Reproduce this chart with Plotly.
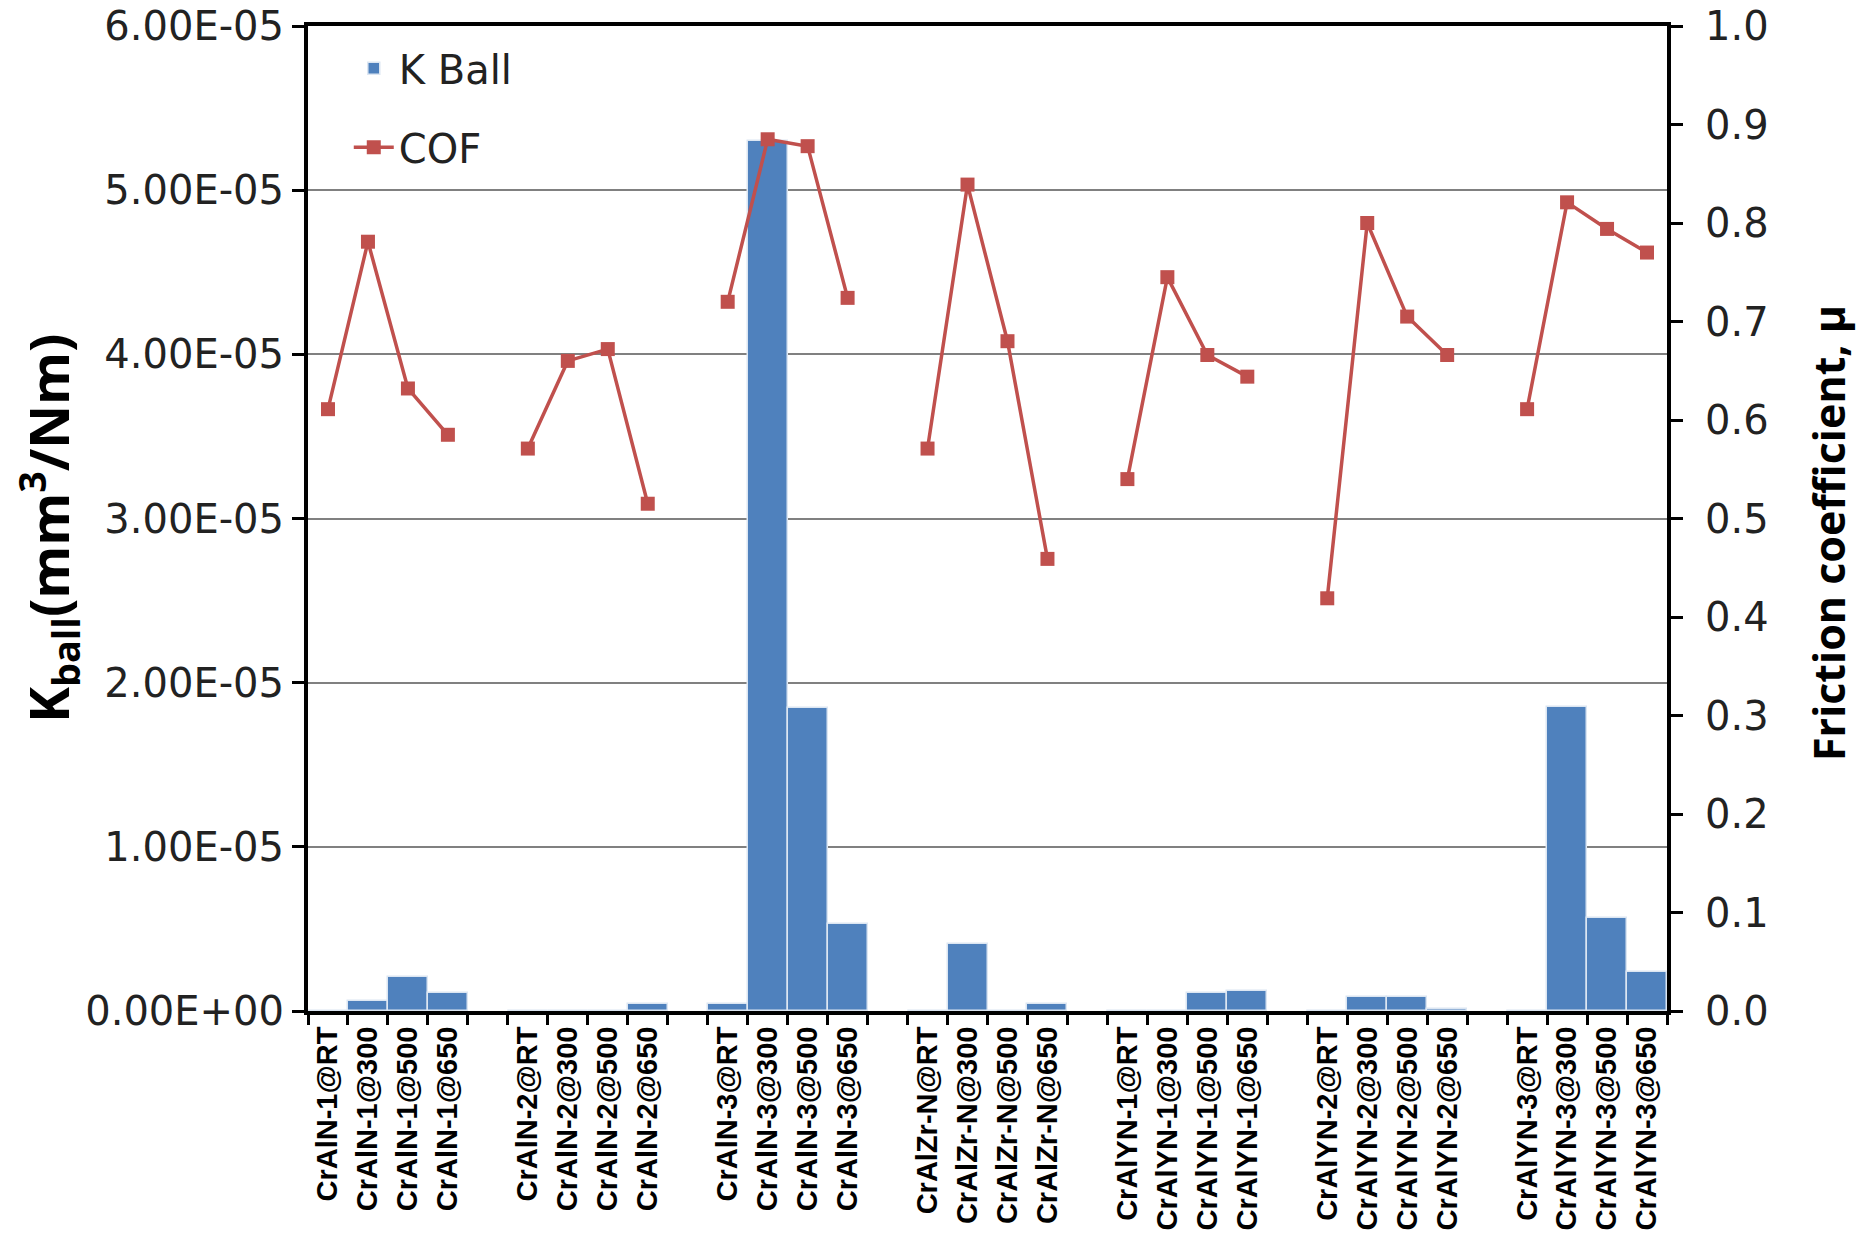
import plotly.graph_objects as go

# ---- data ----
labels = [
    "CrAlN-1@RT", "CrAlN-1@300", "CrAlN-1@500", "CrAlN-1@650",
    "CrAlN-2@RT", "CrAlN-2@300", "CrAlN-2@500", "CrAlN-2@650",
    "CrAlN-3@RT", "CrAlN-3@300", "CrAlN-3@500", "CrAlN-3@650",
    "CrAlZr-N@RT", "CrAlZr-N@300", "CrAlZr-N@500", "CrAlZr-N@650",
    "CrAlYN-1@RT", "CrAlYN-1@300", "CrAlYN-1@500", "CrAlYN-1@650",
    "CrAlYN-2@RT", "CrAlYN-2@300", "CrAlYN-2@500", "CrAlYN-2@650",
    "CrAlYN-3@RT", "CrAlYN-3@300", "CrAlYN-3@500", "CrAlYN-3@650",
]
k_ball = [
    0.0, 6.0e-7, 2.1e-6, 1.1e-6,
    0.0, 0.0, 0.0, 4.5e-7,
    4.5e-7, 5.30e-5, 1.845e-5, 5.3e-6,
    0.0, 4.1e-6, 0.0, 4.5e-7,
    0.0, 0.0, 1.1e-6, 1.23e-6,
    0.0, 8.7e-7, 8.7e-7, 1.5e-7,
    0.0, 1.85e-5, 5.66e-6, 2.4e-6,
]
cof = [
    0.611, 0.781, 0.632, 0.585,
    0.571, 0.660, 0.672, 0.515,
    0.720, 0.885, 0.878, 0.724,
    0.571, 0.839, 0.680, 0.459,
    0.540, 0.745, 0.666, 0.644,
    0.419, 0.800, 0.705, 0.666,
    0.611, 0.821, 0.794, 0.770,
]
left_ticks = [0, 1e-5, 2e-5, 3e-5, 4e-5, 5e-5, 6e-5]
left_ticktext = ["0.00E+00", "1.00E-05", "2.00E-05", "3.00E-05", "4.00E-05", "5.00E-05", "6.00E-05"]

# insert an empty slot between groups
cats, kb, cf = [], [], []
gap_i = 1
for i, (lab, k, c) in enumerate(zip(labels, k_ball, cof)):
    if i > 0 and i % 4 == 0:
        cats.append(" " * gap_i)
        gap_i += 1
        kb.append(None)
        cf.append(None)
    cats.append(lab)
    kb.append(k)
    cf.append(c)

BLUE = "#4F81BD"
RED = "#C0504D"

fig = go.Figure()
fig.add_trace(go.Bar(
    x=cats, y=kb, name="K Ball", marker=dict(color=BLUE, line=dict(color="#DCE6F2", width=1.5)),
    yaxis="y", legendgroup="a",
))
fig.add_trace(go.Scatter(
    x=cats, y=cf, name="COF", mode="lines+markers", yaxis="y2",
    line=dict(color=RED, width=3.5), marker=dict(symbol="square", size=14, color=RED),
    connectgaps=False, legendgroup="b",
))

tickfont = dict(family="DejaVu Sans", size=40, color="#222")
fig.update_layout(
    width=1870, height=1233,
    margin=dict(l=308, r=203, t=26, b=222, autoexpand=False),
    paper_bgcolor="white", plot_bgcolor="white",
    bargap=0.0,
    showlegend=True,
    legend=dict(x=0.03, y=0.99, xanchor="left", yanchor="top", bgcolor="rgba(0,0,0,0)",
                font=dict(family="DejaVu Sans", size=40, color="#222"), tracegroupgap=24,
                itemwidth=40),
    xaxis=dict(
        type="category", categoryorder="array", categoryarray=cats,
        tickson="boundaries", ticks="outside", ticklen=10, tickwidth=3, tickcolor="black",
        tickangle=-90, tickfont=dict(family="Liberation Sans", size=29, color="black", weight="bold"),
        showline=True, linecolor="black", linewidth=4, mirror=True, showgrid=False,
        range=[-0.5, len(cats) - 0.5], automargin=False,
    ),
    yaxis=dict(
        range=[0, 6e-5], tickvals=left_ticks, ticktext=left_ticktext, ticks="outside",
        ticklen=12, tickwidth=3, tickcolor="black", tickfont=tickfont,
        ticklabeloverflow="allow",
        showline=True, linecolor="black", linewidth=4, mirror=True, showgrid=True,
        gridcolor="#808080", gridwidth=1.5, zeroline=False, automargin=False,
    ),
    yaxis2=dict(
        range=[0, 1.0], dtick=0.1, tickformat=".1f", overlaying="y", side="right",
        ticks="outside", ticklen=12, tickwidth=3, tickcolor="black", tickfont=tickfont,
        ticklabelstandoff=14, ticklabeloverflow="allow",
        showline=True, linecolor="black", linewidth=4, showgrid=False, zeroline=False,
        automargin=False,
    ),
    annotations=[
        dict(text="K<sub>ball</sub>(mm<sup>3</sup>/Nm)", xref="paper", yref="paper",
             x=-0.191, y=0.49, xanchor="center", yanchor="middle", textangle=-90, showarrow=False,
             font=dict(family="Open Sans", size=54, color="black", weight="bold")),
        dict(text="Friction coefficient, μ", xref="paper", yref="paper",
             x=1.119, y=0.485, xanchor="center", yanchor="middle", textangle=-90, showarrow=False,
             font=dict(family="Open Sans", size=43, color="black", weight="bold")),
    ],
)

fig.write_html("out.html", config={"displayModeBar": False},
               post_script="document.body.style.margin='0px';")
